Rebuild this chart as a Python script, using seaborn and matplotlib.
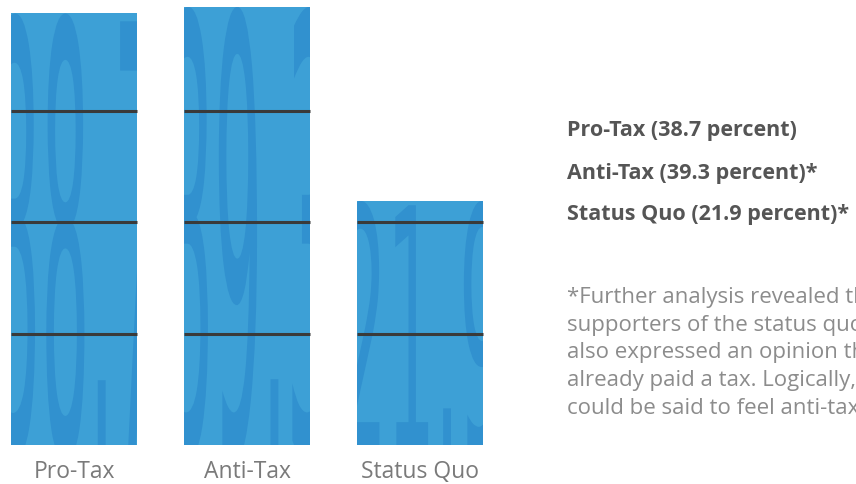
import matplotlib
matplotlib.use("Agg")
import matplotlib.pyplot as plt
import seaborn as sns
import pandas as pd
from matplotlib.textpath import TextPath
from matplotlib.patches import PathPatch
from matplotlib.font_manager import FontProperties
from matplotlib.transforms import Affine2D

# data
groups = ["Pro-Tax", "Anti-Tax", "Status Quo"]
percent = [38.7, 39.3, 21.9]
big_labels = ["38.7", "39.3", "21.9"]
grid_levels = [10, 20, 30]
legend_lines = ["Pro-Tax (38.7 percent)", "Anti-Tax (39.3 percent)*", "Status Quo (21.9 percent)*"]
footnote = ("*Further analysis revealed that\n"
            "supporters of the status quo\n"
            "also expressed an opinion that they\n"
            "already paid a tax. Logically, they\n"
            "could be said to feel anti-tax.")

bar_color = "#3da0d6"
num_color = "#3191cf"
line_color = "#3a3a3a"

sns.set_style("white")
plt.rcParams['font.family'] = ['Open Sans', 'DejaVu Sans']

df = pd.DataFrame({"group": groups, "percent": percent})

fig = plt.figure(figsize=(8.56, 4.85), dpi=100)
ax = fig.add_axes([0, 39 / 485, 490 / 856, 446 / 485])

sns.barplot(data=df, x="group", y="percent", color=bar_color, width=0.728,
            saturation=1, edgecolor="none", ax=ax)

ax.set_xlim(-74 / 173, 416 / 173)
ax.set_ylim(0, 40)

# big faint numbers stretched inside each bar, plus the grid lines
fp = FontProperties(family="DejaVu Sans")
for bar, lab in zip(ax.patches, big_labels):
    x0 = bar.get_x()
    w = bar.get_width()
    h = bar.get_height()
    tp = TextPath((0, 0), lab, size=1, prop=fp)
    ext = tp.get_extents()
    tx0, tx1 = x0 - 0.1 * w, x0 + w * 1.15
    ty0, ty1 = -0.04 * h, h * 1.0
    tr = (Affine2D().translate(-ext.x0, -ext.y0)
          .scale((tx1 - tx0) / ext.width, (ty1 - ty0) / ext.height)
          .translate(tx0, ty0))
    patch = PathPatch(tr.transform_path(tp), facecolor=num_color,
                      edgecolor="none", zorder=2)
    ax.add_patch(patch)
    patch.set_clip_path(bar)
    for lv in grid_levels:
        if lv < h:
            ax.hlines(lv, x0, x0 + w, color=line_color, lw=2.2, zorder=3)

for s in ax.spines.values():
    s.set_visible(False)
ax.set_xlabel("")
ax.set_ylabel("")
ax.set_yticks([])
ax.tick_params(axis="x", length=0, pad=10, labelsize=16.5, labelcolor="#7a7a7a")

# right-hand text
for i, t in enumerate(legend_lines):
    fig.text(567 / 856, 1 - (131 + 42 * i) / 485, t, fontsize=15.5, fontweight="bold",
             color="#555555", va="center", ha="left")

fig.text(567 / 856, 1 - 287 / 485, footnote, fontsize=16, fontweight="normal",
         color="#8c8c8c", va="top", ha="left", linespacing=1.42)

fig.savefig("out.png", dpi=100)
